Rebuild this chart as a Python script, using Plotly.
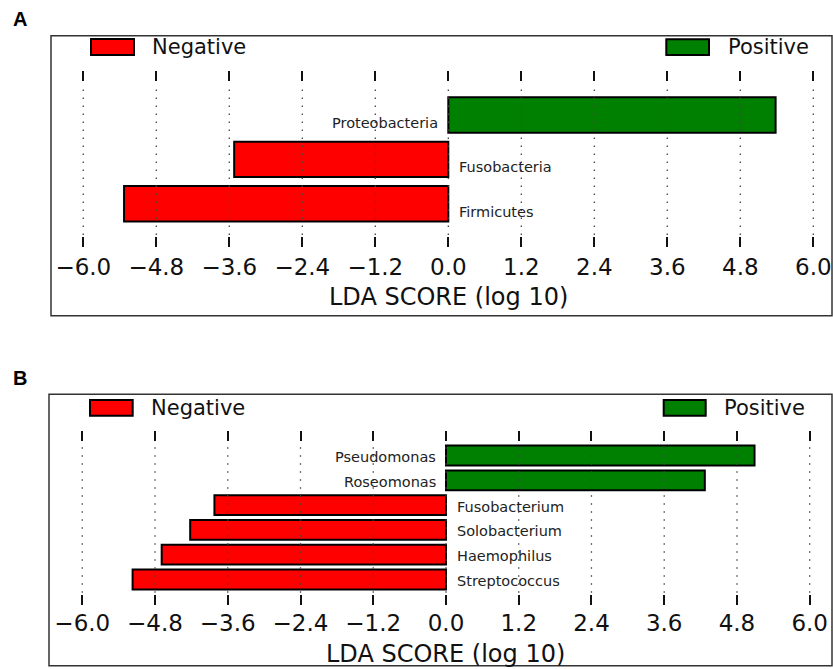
import plotly.graph_objects as go

# ---------------- data ----------------
taxa_a = ["Proteobacteria", "Fusobacteria", "Firmicutes"]
lda_a = [5.38, -3.52, -5.33]

taxa_b = ["Pseudomonas", "Roseomonas", "Fusobacterium", "Solobacterium",
          "Haemophilus", "Streptococcus"]
lda_b = [5.09, 4.27, -3.82, -4.22, -4.69, -5.17]

tick_vals = [-6.0, -4.8, -3.6, -2.4, -1.2, 0.0, 1.2, 2.4, 3.6, 4.8, 6.0]
tick_text = ["\u22126.0", "\u22124.8", "\u22123.6", "\u22122.4", "\u22121.2",
             "0.0", "1.2", "2.4", "3.6", "4.8", "6.0"]
legend_labels = ["Negative", "Positive"]
panel_labels = ["A", "B"]
x_title = "LDA SCORE (log 10)"

NEG_COLOR = "#ff0000"
POS_COLOR = "#008000"
FONT = "DejaVu Sans"

W, H = 833, 669


def px_x(p):
    return p / W


def px_y(p):
    return 1 - p / H


fig = go.Figure()

panels = [
    dict(taxa=taxa_a, lda=lda_a, xa="x", ya="y", xkey="xaxis", ykey="yaxis",
         box=(51, 35.7, 832, 315.7), inner=(70.7, 247.3),
         xrange=[-6.531, 6.307], yrange=[-0.983, 3.0],
         sw_neg=(91, 39, 134, 55), sw_pos=(666.3, 39.3, 709, 55),
         txt_neg=150, txt_pos=726, leg_y=47, lab_y=19, title_y=297,
         lab_shift=-8, standoff=4),
    dict(taxa=taxa_b, lda=lda_b, xa="x2", ya="y2", xkey="xaxis2", ykey="yaxis2",
         box=(49, 394.3, 832, 665.7), inner=(430.7, 605.0),
         xrange=[-6.549, 6.368], yrange=[-1.028, 6.0],
         sw_neg=(90, 400, 132.7, 415.7), sw_pos=(663.7, 400, 705.7, 415.7),
         txt_neg=149.3, txt_pos=722.3, leg_y=408, lab_y=378, title_y=654,
         lab_shift=-1.5, standoff=2),
]

shapes = []
annotations = []
layout_axes = {}

for pi, p in enumerate(panels):
    n = len(p["taxa"])
    ypos = [n - 1 - i for i in range(n)]
    colors = [POS_COLOR if v > 0 else NEG_COLOR for v in p["lda"]]
    fig.add_trace(go.Bar(
        x=p["lda"], y=ypos, orientation="h", width=0.8,
        marker=dict(color=colors, line=dict(color="black", width=2)),
        xaxis=p["xa"], yaxis=p["ya"], showlegend=False, hoverinfo="x+text",
        hovertext=p["taxa"],
    ))
    bl, bt, br, bb = p["box"]
    it, ib = p["inner"]
    layout_axes[p["xkey"]] = dict(
        domain=[px_x(bl), px_x(br)], range=p["xrange"], anchor=p["ya"],
        tickvals=tick_vals, ticktext=tick_text, ticks="inside", ticklen=10,
        tickwidth=1.5, tickcolor="#111", mirror="ticks", showline=False,
        showgrid=False, zeroline=False, fixedrange=True,
        tickfont=dict(family=FONT, size=23, color="#111"),
        ticklabelstandoff=p["standoff"],
    )
    layout_axes[p["ykey"]] = dict(
        domain=[px_y(ib), px_y(it)], range=p["yrange"], anchor=p["xa"],
        showticklabels=False, showgrid=False, zeroline=False, showline=False,
        ticks="", fixedrange=True,
    )
    # dotted vertical grid lines drawn above the bars
    for v in tick_vals:
        shapes.append(dict(
            type="line", xref=p["xa"], yref=p["ya"] + " domain",
            x0=v, x1=v, y0=0.07, y1=0.93, layer="above",
            line=dict(color="#444", width=1.3, dash="1.5px,6.5px"),
        ))
    # outer frame
    shapes.append(dict(
        type="rect", xref="paper", yref="paper",
        x0=px_x(bl), x1=px_x(br), y0=px_y(bb), y1=px_y(bt),
        line=dict(color="#333", width=1.5), layer="below",
    ))
    # legend swatches
    for sw, col in ((p["sw_neg"], NEG_COLOR), (p["sw_pos"], POS_COLOR)):
        shapes.append(dict(
            type="rect", xref="paper", yref="paper",
            x0=px_x(sw[0]), x1=px_x(sw[2]), y0=px_y(sw[3]), y1=px_y(sw[1]),
            fillcolor=col, line=dict(color="black", width=2),
        ))
    for txt, xl in ((legend_labels[0], p["txt_neg"]), (legend_labels[1], p["txt_pos"])):
        annotations.append(dict(
            text=txt, xref="paper", yref="paper", x=px_x(xl), y=px_y(p["leg_y"]),
            xanchor="left", yanchor="middle", showarrow=False,
            font=dict(family=FONT, size=21, color="#111"),
        ))
    # bar labels
    for name, v, yv in zip(p["taxa"], p["lda"], ypos):
        annotations.append(dict(
            text=name, xref=p["xa"], yref=p["ya"], x=0, y=yv,
            xanchor="right" if v > 0 else "left", yanchor="middle",
            xshift=-8 if v > 0 else 9, yshift=p["lab_shift"], showarrow=False,
            font=dict(family=FONT, size=14.5, color="#222"),
        ))
    # axis title
    annotations.append(dict(
        text=x_title, xref=p["xa"], yref="paper", x=0, y=px_y(p["title_y"]),
        xanchor="center", yanchor="middle", showarrow=False,
        font=dict(family=FONT, size=24, color="#111"),
    ))
    # panel label
    annotations.append(dict(
        text="<b>%s</b>" % panel_labels[pi], xref="paper", yref="paper",
        x=px_x(19.5), y=px_y(p["lab_y"]), xanchor="center", yanchor="middle",
        showarrow=False,
        font=dict(family="Liberation Sans", size=20, color="black"),
    ))

fig.update_layout(
    width=W, height=H, margin=dict(l=0, r=0, t=0, b=0),
    paper_bgcolor="white", plot_bgcolor="rgba(0,0,0,0)",
    shapes=shapes, annotations=annotations, showlegend=False,
    font=dict(family=FONT),
    **layout_axes,
)

fig.write_html(
    "out.html",
    config={"displayModeBar": False},
    post_script="document.body.style.margin='0';document.body.style.overflow='hidden';",
)
